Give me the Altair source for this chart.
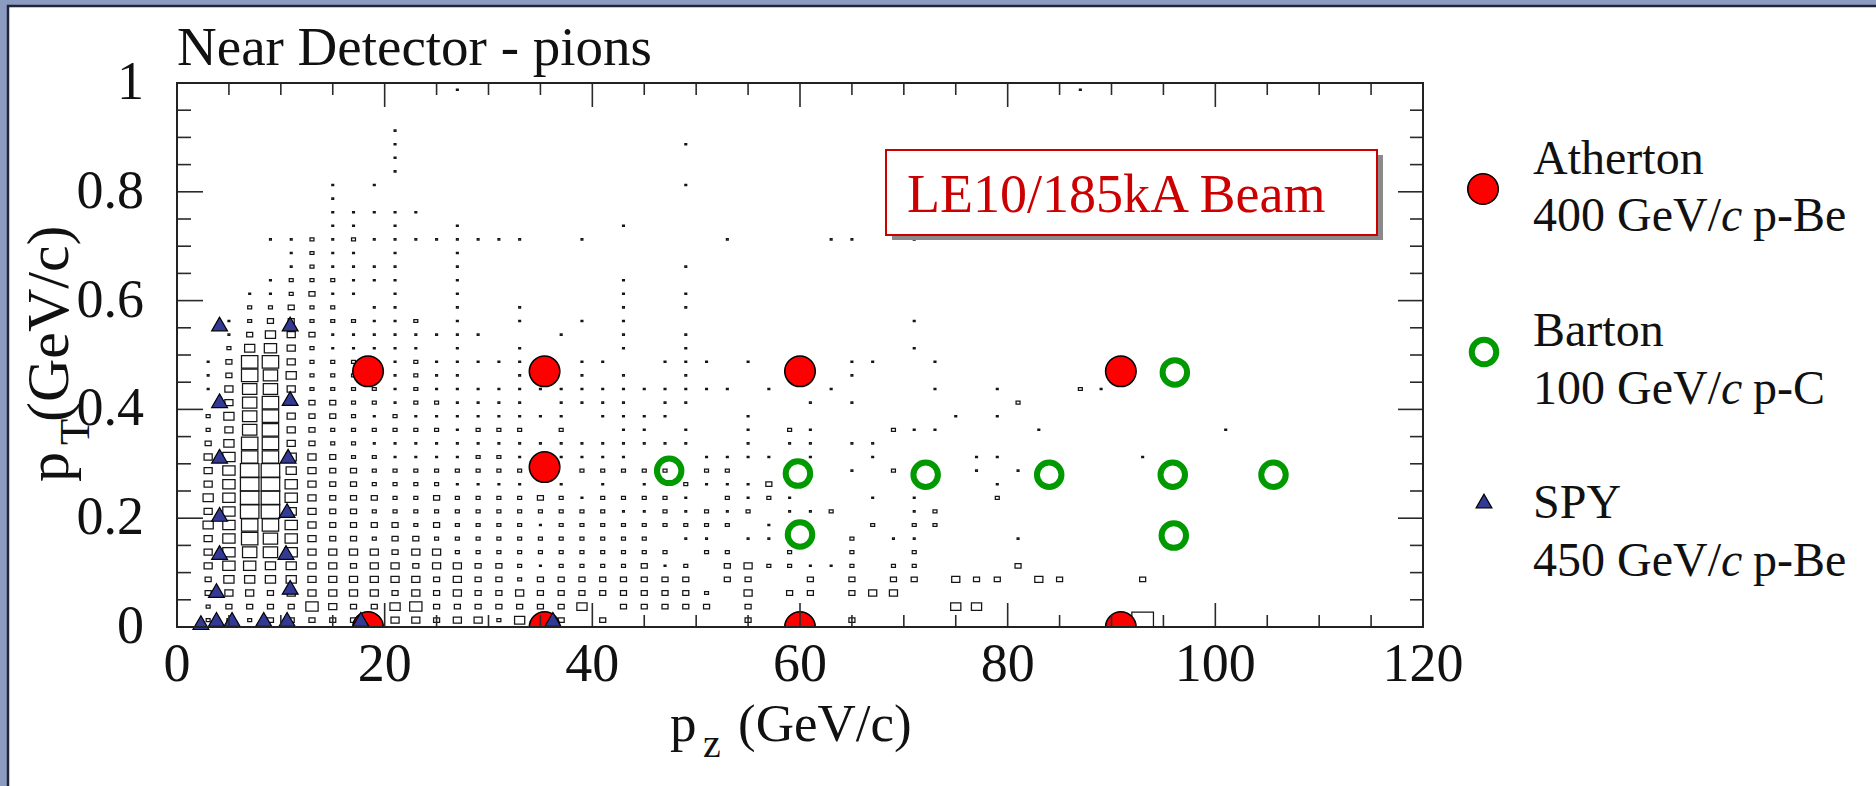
import altair as alt
import pandas as pd

# ---------------------------------------------------------------------------
# Near-detector pion yield, binned in pz (2 GeV/c) x pT (0.025 GeV/c).
# One string per pT bin (lowest first), one character per pz bin (0..120).
# Digit = box size class (0 = empty), X = full-size box.
# ---------------------------------------------------------------------------
PZ_BIN = 2.0
PT_BIN = 0.025

HIST_ROWS = [
    "0222333333 4434425330 3000000300 0030000000 000000X000 0000000000",
    "0233336433 5633333335 0333330300 0000000550 0000000000 0000000000",
    "0344344444 3434334333 3333320403 3034400000 0000000000 0000000000",
    "0355554444 4434332333 3333303300 3030330433 0430003000 0000000000",
    "0466554434 4344332122 2231203422 1120220000 3000000000 0000000000",
    "0467764444 3442222222 2222022002 0020020000 0000000000 0000000000",
    "0468764332 3322222222 2220110110 0020110000 1000000000 0000000000",
    "0568864333 3232222122 2222222010 0002022000 0000000000 0000000000",
    "0469954332 2222222222 2112121201 1200012000 0000000000 0000000000",
    "0569964333 2232222321 2222102121 0001010002 0000000000 0000000000",
    "0469964332 2221111010 1010211130 0000000001 0000000000 0000000000",
    "0469954332 2222222202 2222022000 0010200010 1000000000 0000000000",
    "0468854322 1111221011 1100011110 1001000011 0000001000 0000000000",
    "0358843221 1111111111 1111100101 1011000000 0000000000 0000000000",
    "0247843222 2221222020 0110100102 1000211000 0100000000 1000000000",
    "0257843321 2111111110 1111000100 0000000101 0000000000 0000000000",
    "0047833322 1221111011 1101100000 1010000000 2000000000 0000000000",
    "0147742222 1211111111 1111111010 0100001001 0002100000 0000000000",
    "0138752221 1211001001 0100100000 0010000000 0000000000 0000000000",
    "0138842222 1211111001 1001110100 0011001000 0000000000 0000000000",
    "0025642111 1101001000 0100100000 0000010000 0000000000 0000000000",
    "0013543111 1111100010 0100100000 0000000000 0000000000 0000000000",
    "0012332221 1201001001 0100000000 0000010000 0000000000 0000000000",
    "0002232201 1001001000 0100100000 0000000000 0000000000 0000000000",
    "0001123110 1001000000 0100100000 0000000000 0000000000 0000000000",
    "0000122211 1001000000 0100000000 0000000000 0000000000 0000000000",
    "0000012111 1001000000 0000100000 0000000000 0000000000 0000000000",
    "0000012110 1001000000 0000000000 0000000000 0000000000 0000000000",
    "0000112121 1111111001 0000001000 0110010000 0000000000 0000000000",
    "0000000110 1001000000 0100000000 0000000000 0000000000 0000000000",
    "0000000111 1100000000 0000000000 0000000000 0000000000 0000000000",
    "0000000100 0000000000 0000000000 0000000000 0000000000 0000000000",
    "0000000101 0000000000 0000100000 0000000000 0000000000 0000000000",
    "0000000000 1000000000 0000000000 0000000000 0000000000 0000000000",
    "0000000000 1000000000 0000000000 0000000000 0000000000 0000000000",
    "0000000000 1000000000 0000100000 0000000000 0000000000 0000000000",
    "0000000000 1000000000 0000000000 0000000000 0000000000 0000000000",
    "0000000000 0000000000 0000000000 0000000000 0000000000 0000000000",
    "0000000000 0000000000 0000000000 0000000000 0000000000 0000000000",
    "0000000000 0001000000 0000000000 0000000000 0001000000 0000000000",
]

# Hadron-production measurements overlaid on the yield
ATHERTON_PZ = [18.4, 35.4, 60.0, 90.9, 35.4, 18.4, 35.4, 60.0, 90.9]
ATHERTON_PT = [0.470, 0.470, 0.470, 0.470, 0.294, 0.0, 0.0, 0.0, 0.0]

BARTON_PZ = [47.4, 59.8, 72.1, 84.0, 95.9, 105.6, 96.1, 60.0, 96.0]
BARTON_PT = [0.287, 0.282, 0.280, 0.280, 0.280, 0.280, 0.468, 0.170, 0.168]

SPY_PZ = [4.1, 4.1, 4.1, 4.1, 4.1, 3.8, 10.9, 10.9, 10.7, 10.6, 10.5, 10.9,
          2.3, 3.8, 5.3, 8.35, 10.6, 17.7, 36.2]
SPY_PT = [0.557, 0.416, 0.314, 0.207, 0.137, 0.067, 0.557, 0.420, 0.314, 0.214, 0.137, 0.073,
          0.008, 0.014, 0.014, 0.014, 0.014, 0.014, 0.014]

X_TICKS = [0, 20, 40, 60, 80, 100, 120]
Y_TICKS = [0, 0.2, 0.4, 0.6, 0.8, 1.0]
X_MINOR = [v for v in range(0, 121, 5) if v % 20]
Y_MINOR = [round(0.05 * k, 2) for k in range(21) if k % 4]

# ---------------------------------------------------------------------------
W, H = 1246, 544
LEFT, TOP = 177, 83
CANVAS_W, CANVAS_H = 1876, 786
SERIF = "Liberation Serif"
INK = "#111111"
RED = "#ff0000"
GREEN = "#009a00"
NAVY = "#333a96"
LABEL_RED = "#cc0000"

X_SCALE = alt.Scale(domain=[0, 120], nice=False, zero=False)
Y_SCALE = alt.Scale(domain=[0, 1], nice=False, zero=False)

cells = []
for j, row in enumerate(HIST_ROWS):
    for i, ch in enumerate(row.replace(" ", "")):
        if ch != "0":
            cells.append({"pz": (i + 0.5) * PZ_BIN, "pt": (j + 0.5) * PT_BIN,
                          "level": 10.5 if ch == "X" else int(ch)})
hist = pd.DataFrame(cells)

one = pd.DataFrame({"k": [0]})


def text_layer(t, x, y, size, color=INK, angle=0, italic=False, align="left"):
    return alt.Chart(pd.DataFrame({"t": [t]})).mark_text(
        font=SERIF, fontSize=size, color=color, align=align, baseline="alphabetic",
        angle=angle, fontStyle="italic" if italic else "normal",
    ).encode(text="t:N", x=alt.value(x), y=alt.value(y))


def px_rect(x1, y1, x2, y2, **style):
    return alt.Chart(one).mark_rect(**style).encode(
        x=alt.value(x1), x2=alt.value(x2), y=alt.value(y1), y2=alt.value(y2))


# slide background panel (white with dark edge)
panel = px_rect(8 - LEFT, 6 - TOP, CANVAS_W - LEFT + 20, CANVAS_H - TOP + 20,
                fill="white", stroke="#20263a", strokeWidth=2.5)

boxes = alt.Chart(hist).transform_calculate(
    hw="0.1 * datum.level - 0.01", hh="0.00145 * datum.level - 0.0002"
).transform_calculate(
    x1="datum.pz - datum.hw", x2="datum.pz + datum.hw",
    y1="datum.pt - datum.hh", y2="datum.pt + datum.hh",
).mark_rect(fillOpacity=0, stroke="#151515", strokeWidth=1.25, clip=True).encode(
    x=alt.X("x1:Q", scale=X_SCALE, axis=None), x2="x2:Q",
    y=alt.Y("y1:Q", scale=Y_SCALE, axis=None), y2="y2:Q",
)

# beam label box with drop shadow
bx1, by1, bx2, by2 = 886 - LEFT, 150 - TOP, 1377 - LEFT, 235 - TOP
shadow = px_rect(bx1 + 6, by1 + 5, bx2 + 6, by2 + 5, fill="#8a8a8a")
label_box = px_rect(bx1, by1, bx2, by2, fill="white", stroke=LABEL_RED, strokeWidth=2)
label_txt = text_layer("LE10/185kA Beam", 907 - LEFT, 212 - TOP, 54, color=LABEL_RED)

atherton = alt.Chart(pd.DataFrame({"pz": ATHERTON_PZ, "pt": ATHERTON_PT})).mark_point(
    shape="circle", filled=True, fill=RED, stroke="black", strokeWidth=1.6,
    size=930, opacity=1, clip=True,
).encode(x=alt.X("pz:Q", scale=X_SCALE, axis=None), y=alt.Y("pt:Q", scale=Y_SCALE, axis=None))

barton = alt.Chart(pd.DataFrame({"pz": BARTON_PZ, "pt": BARTON_PT})).mark_point(
    shape="circle", filled=False, stroke=GREEN, strokeWidth=6, size=600, opacity=1,
).encode(x=alt.X("pz:Q", scale=X_SCALE, axis=None), y=alt.Y("pt:Q", scale=Y_SCALE, axis=None))

spy = alt.Chart(pd.DataFrame({"pz": SPY_PZ, "pt": SPY_PT})).mark_point(
    shape="triangle-up", filled=True, fill=NAVY, stroke="black", strokeWidth=1.2,
    size=250, opacity=1,
).encode(x=alt.X("pz:Q", scale=X_SCALE, axis=None), y=alt.Y("pt:Q", scale=Y_SCALE, axis=None))


def tick_rules(values, side, length):
    base = alt.Chart(pd.DataFrame({"v": values})).mark_rule(color="#2a2a2a", strokeWidth=1.6)
    if side == "bottom":
        return base.encode(x=alt.X("v:Q", scale=X_SCALE, axis=None), y=alt.value(H), y2=alt.value(H - length))
    if side == "top":
        return base.encode(x=alt.X("v:Q", scale=X_SCALE, axis=None), y=alt.value(0), y2=alt.value(length))
    if side == "left":
        return base.encode(y=alt.Y("v:Q", scale=Y_SCALE, axis=None), x=alt.value(0), x2=alt.value(length))
    return base.encode(y=alt.Y("v:Q", scale=Y_SCALE, axis=None), x=alt.value(W), x2=alt.value(W - length))


ticks = [
    tick_rules(X_TICKS, "bottom", 24), tick_rules(X_MINOR, "bottom", 12),
    tick_rules(X_TICKS, "top", 24), tick_rules(X_MINOR, "top", 12),
    tick_rules(Y_TICKS, "left", 26), tick_rules(Y_MINOR, "left", 14),
    tick_rules(Y_TICKS, "right", 25), tick_rules(Y_MINOR, "right", 13),
]

# tick labels, placed through the same scales as the data
x_labels = alt.Chart(pd.DataFrame({"v": X_TICKS, "s": [f"{v:g}" for v in X_TICKS]})).mark_text(
    font=SERIF, fontSize=54, color=INK, align="center", baseline="alphabetic",
).encode(x=alt.X("v:Q", scale=X_SCALE, axis=None), y=alt.value(H + 54), text="s:N")

y_labels = alt.Chart(pd.DataFrame({"v": Y_TICKS, "s": [f"{v:g}" for v in Y_TICKS]})).mark_text(
    font=SERIF, fontSize=54, color=INK, align="right", baseline="middle",
).encode(y=alt.Y("v:Q", scale=Y_SCALE, axis=None), x=alt.value(-33), text="s:N")

frame = px_rect(0, 0, W, H, fillOpacity=0, stroke="#222222", strokeWidth=2)

# titles
title = text_layer("Near Detector - pions", 0, 65 - TOP, 55)
x_title = [
    text_layer("p", 670 - LEFT, 741 - TOP, 53),
    text_layer("z", 703 - LEFT, 757 - TOP, 40),
    text_layer("(GeV/c)", 738 - LEFT, 741 - TOP, 53),
]
y_title = [
    text_layer("p", 68 - LEFT, 482 - TOP, 60, angle=270),
    text_layer("T", 89 - LEFT, 445 - TOP, 43, angle=270),
    text_layer("(GeV/c)", 68 - LEFT, 422 - TOP, 60, angle=270),
]

# legend
LX_MARK, LX_TEXT = 1483 - LEFT, 1533 - LEFT
legend_items = [
    ("Atherton", "400", "p-Be", 174, 231),
    ("Barton", "100", "p-C", 346, 404),
    ("SPY", "450", "p-Be", 518, 576),
]
legend = [
    alt.Chart(one).mark_point(shape="circle", filled=True, fill=RED, stroke="black",
                              strokeWidth=1.6, size=930, opacity=1).encode(
        x=alt.value(LX_MARK), y=alt.value(189 - TOP)),
    alt.Chart(one).mark_point(shape="circle", filled=False, stroke=GREEN,
                              strokeWidth=6, size=600, opacity=1).encode(
        x=alt.value(LX_MARK + 1), y=alt.value(352 - TOP)),
    alt.Chart(one).mark_point(shape="triangle-up", filled=True, fill=NAVY, stroke="black",
                              strokeWidth=1.2, size=250, opacity=1).encode(
        x=alt.value(LX_MARK + 1), y=alt.value(501 - TOP)),
]
for name, energy, target, y1, y2 in legend_items:
    legend += [
        text_layer(name, LX_TEXT, y1 - TOP, 48),
        text_layer(f"{energy} GeV/", LX_TEXT, y2 - TOP, 48),
        text_layer("c", LX_TEXT + 188, y2 - TOP, 48, italic=True),
        text_layer(target, LX_TEXT + 220, y2 - TOP, 48),
    ]

chart = alt.layer(
    panel, boxes, shadow, label_box, label_txt, atherton, barton, spy,
    *ticks, frame, x_labels, y_labels, title, *x_title, *y_title, *legend,
).properties(
    width=W, height=H,
    padding={"left": LEFT, "top": TOP, "right": CANVAS_W - LEFT - W, "bottom": CANVAS_H - TOP - H},
    autosize=alt.AutoSizeParams(type="none"),
    background="#8c9cc0",
).configure_view(strokeWidth=0)

chart.save("out.html", embed_options={"renderer": "svg", "actions": False})
